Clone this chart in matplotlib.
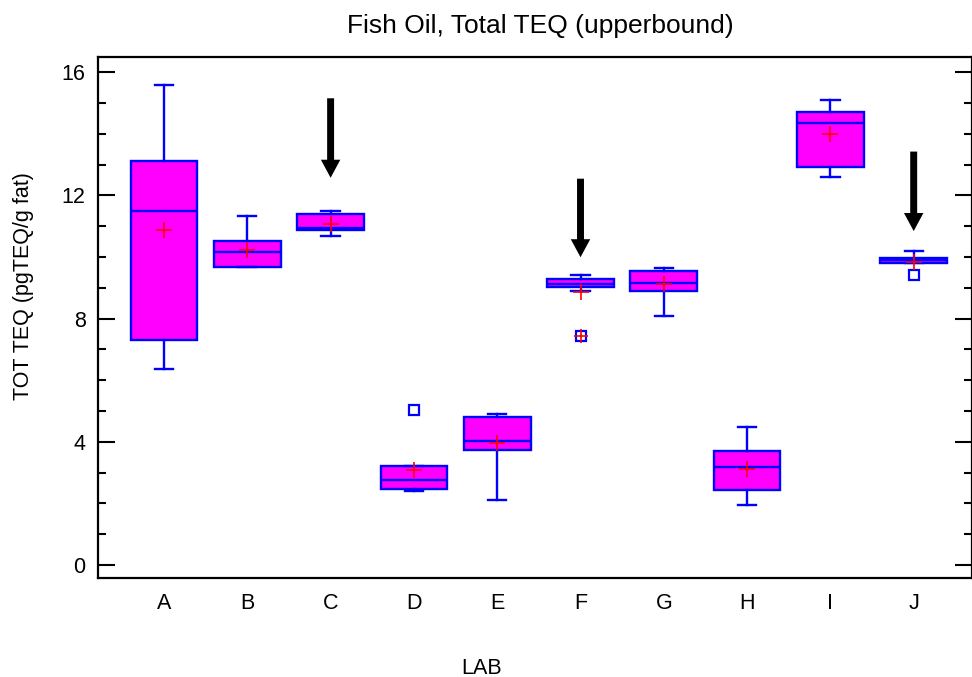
import matplotlib
matplotlib.use("Agg")
import matplotlib.pyplot as plt
from matplotlib.ticker import MultipleLocator

plt.rcParams['font.family'] = ['Liberation Sans', 'DejaVu Sans']

labs = ['A', 'B', 'C', 'D', 'E', 'F', 'G', 'H', 'I', 'J']
whis_lo = [6.37, 9.69, 10.68, 2.39, 2.12, 8.89, 8.09, 1.94, 12.61, 9.80]
q1 = [7.32, 9.69, 10.88, 2.48, 3.72, 9.04, 8.89, 2.42, 12.92, 9.80]
medians = [11.49, 10.15, 10.93, 2.77, 4.04, 9.12, 9.17, 3.18, 14.34, 9.89]
q3 = [13.10, 10.51, 11.38, 3.20, 4.81, 9.29, 9.55, 3.69, 14.70, 9.98]
whis_hi = [15.58, 11.32, 11.48, 3.20, 4.91, 9.43, 9.65, 4.49, 15.08, 10.19]
means = [10.88, 10.24, 11.08, 3.07, 3.95, 8.86, 9.11, 3.11, 14.00, 9.85]
outliers = [[], [], [], [5.04], [], [7.45], [], [], [], [9.43]]
far_outliers = [[], [], [], [], [], [7.45], [], [], [], []]

arrow_labs = ['C', 'F', 'J']
arrow_top = [15.15, 12.54, 13.42]
arrow_tip = [12.57, 9.99, 10.84]

fig = plt.figure(figsize=(9.72, 6.77), dpi=100)
ax = fig.add_axes([98/972, 1 - 578/677, 1 - 98/972, (578 - 57)/677])

positions = list(range(1, len(labs) + 1))
stats = []
for i, lab in enumerate(labs):
    stats.append(dict(label=lab, med=medians[i], q1=q1[i], q3=q3[i],
                      whislo=whis_lo[i], whishi=whis_hi[i], mean=means[i],
                      fliers=outliers[i]))

blue = '#0000FF'
ax.bxp(stats, positions=positions, widths=0.8, capwidths=0.22,
       showmeans=True, showfliers=True, patch_artist=True,
       boxprops=dict(facecolor='#FF00FF', edgecolor=blue, linewidth=1.7),
       medianprops=dict(color=blue, linewidth=1.7),
       whiskerprops=dict(color=blue, linewidth=1.7),
       capprops=dict(color=blue, linewidth=1.7),
       meanprops=dict(marker='+', markeredgecolor='red', markersize=11,
                      markeredgewidth=1.2, linestyle='none'),
       flierprops=dict(marker='s', markerfacecolor='none', markeredgecolor=blue,
                       markersize=7.5, markeredgewidth=1.6, linestyle='none'))

for i, vals in enumerate(far_outliers):
    if vals:
        ax.plot([positions[i]] * len(vals), vals, linestyle='none', marker='+',
                markeredgecolor='red', markersize=10, markeredgewidth=1.2, zorder=4)

for lab, top, tip in zip(arrow_labs, arrow_top, arrow_tip):
    x = positions[labs.index(lab)]
    ax.annotate('', xy=(x, tip), xytext=(x, top),
                arrowprops=dict(arrowstyle='simple,head_length=1.3,head_width=1.4,tail_width=0.5',
                                mutation_scale=10, color='black', lw=0,
                                shrinkA=0, shrinkB=0))

ax.set_xlim(0.2075, 10.70)
ax.set_ylim(-0.42, 16.49)
ax.set_xticks(positions)
ax.set_xticklabels(labs)
ax.set_yticks([0, 4, 8, 12, 16])
ax.yaxis.set_minor_locator(MultipleLocator(1))
ax.tick_params(axis='x', length=0, pad=11, labelsize=15.5)
ax.tick_params(axis='y', which='major', direction='in', length=12, width=1.5,
               labelsize=15.5, pad=9, right=True)
ax.tick_params(axis='y', which='minor', direction='in', length=6, width=1.5, right=True)
for s in ax.spines.values():
    s.set_linewidth(1.6)

fig.text(540.5/972, 1 - 26/677, 'Fish Oil, Total TEQ (upperbound)', ha='center',
         va='center', fontsize=19)
fig.text(24/972, 1 - 286/677, 'TOT TEQ (pgTEQ/g fat)', rotation=90, ha='center',
         va='center', fontsize=15.5)
fig.text(481.7/972, 1 - 668/677, 'LAB', ha='center', va='center', fontsize=15.5)

fig.savefig('out.png', dpi=100)
